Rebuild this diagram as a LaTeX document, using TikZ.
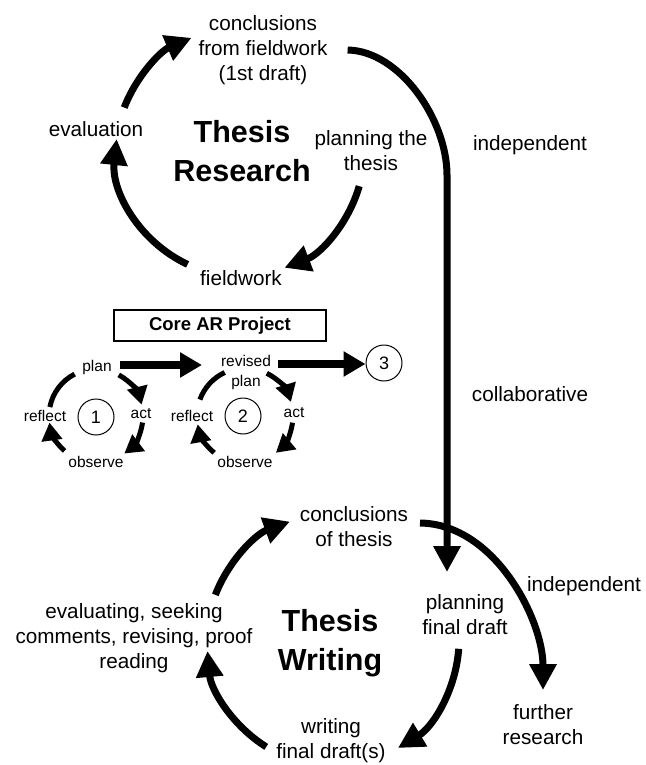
\documentclass[tikz,border=0pt]{standalone}
\usepackage{fontspec}
\setmainfont{Liberation Sans}
\usetikzlibrary{arrows.meta}
\begin{document}
\begin{tikzpicture}[x=1pt,y=-1pt,
  txt/.style={font=\fontsize{20.7}{25}\selectfont, align=center, inner sep=0pt},
  ttl/.style={font=\bfseries\fontsize{30.5}{39}\selectfont, align=center, inner sep=0pt},
  sml/.style={font=\fontsize{15.5}{20}\selectfont, align=center, inner sep=0pt},
  bigarr/.style={line width=7pt, -{Triangle[length=26pt,width=26pt]}},
  smlarr/.style={line width=5pt, -{Triangle[length=18pt,width=20pt]}},
  smlline/.style={line width=5pt},
  medarr/.style={line width=8pt, -{Triangle[length=22pt,width=24pt]}},
  numc/.style={circle, draw, line width=1pt, minimum size=36pt, inner sep=0pt, font=\fontsize{18}{18}\selectfont},
  corebox/.style={draw, line width=1.2pt, minimum width=212pt, minimum height=31pt, inner sep=0pt, font=\bfseries\fontsize{18.5}{20}\selectfont}
]
\fill[white] (0,0) rectangle (645,765);
\useasboundingbox (0,0) rectangle (645,765);

% ---- Thesis Research cycle ----
\node[txt] (concl1) at (263,50) {conclusions\\from fieldwork\\(1st draft)};
\node[txt] (eval1) at (96,129) {evaluation};
\node[txt] (plan1) at (371,151) {planning the\\thesis};
\node[txt] (field1) at (241,278) {fieldwork};
\node[ttl] (title1) at (242,151) {Thesis\\Research};
\node[txt] (indep1) at (530,145) {independent};
\node[txt] (collab) at (530,394) {collaborative};

\coordinate (C1) at (240,152);
\draw[bigarr] ([shift={(-159:124)}]C1) arc[start angle=-159,end angle=-113,radius=124];
\draw[bigarr] ([shift={(-245:124)}]C1) arc[start angle=-245,end angle=-174,radius=124];
\draw[bigarr] ([shift={(16:124)}]C1) arc[start angle=16,end angle=69,radius=124];

% ---- Core AR project ----
\node[corebox] (core) at (220,325.5) {Core AR Project};

\node[sml] (pl1) at (97,367) {plan};
\node[sml] (rf1) at (45,416) {reflect};
\node[sml] (ac1) at (141,414) {act};
\node[sml] (ob1) at (96,462) {observe};
\node[numc] (n1) at (96,417) {1};

\node[sml] (rv2) at (246,372) {revised\\plan};
\node[sml] (rf2) at (192,416) {reflect};
\node[sml] (ac2) at (294,413) {act};
\node[sml] (ob2) at (245,462) {observe};
\node[numc] (n2) at (243,416) {2};

\node[numc] (n3) at (384,363) {3};

\coordinate (S1) at (96,416);
\draw[smlarr] ([shift={(-61:47)}]S1) arc[start angle=-61,end angle=-14,radius=47];
\draw[smlarr] ([shift={(8:47)}]S1) arc[start angle=8,end angle=53,radius=47];
\draw[smlarr] ([shift={(-228:47)}]S1) arc[start angle=-228,end angle=-188,radius=47];
\draw[smlline] ([shift={(-169:47)}]S1) arc[start angle=-169,end angle=-117,radius=47];

\coordinate (S2) at (245,416);
\draw[smlarr] ([shift={(-63:48)}]S2) arc[start angle=-63,end angle=-17,radius=48];
\draw[smlarr] ([shift={(8:48)}]S2) arc[start angle=8,end angle=50,radius=48];
\draw[smlarr] ([shift={(-230:48)}]S2) arc[start angle=-230,end angle=-190,radius=48];
\draw[smlline] ([shift={(-160:48)}]S2) arc[start angle=-160,end angle=-115,radius=48];

\coordinate (a1) at (120,365);
\coordinate (a2) at (202,365);
\draw[medarr] (a1) -- (a2);
\coordinate (a3) at (278,364);
\draw[medarr] (a3) -- (a3 -| n3.west);

% ---- Thesis Writing cycle ----
\node[txt] (concl2) at (354,527) {conclusions\\of thesis};
\node[txt] (plan2) at (465,615) {planning\\final draft};
\node[txt] (eval2) at (134,638) {evaluating, seeking\\comments, revising, proof\\reading};
\node[ttl] (title2) at (330,643) {Thesis\\Writing};
\node[txt] (write2) at (331,741) {writing\\final draft(s)};
\node[txt] (further) at (543,725) {further\\research};
\node[txt] (indep2) at (584,586) {independent};

\coordinate (C2) at (333,640);
\draw[bigarr] ([shift={(-159:126)}]C2) arc[start angle=-159,end angle=-110,radius=126];
\draw[bigarr] ([shift={(-238:126)}]C2) arc[start angle=-238,end angle=-185,radius=126];
\draw[bigarr] ([shift={(4:126)}]C2) arc[start angle=4,end angle=59,radius=126];

% ---- long connectors ----
\coordinate (L1e) at (447,572);
\draw[bigarr] ([xshift=20pt]concl1.east) .. controls (400,51) and (447,120) .. (447,175) -- (L1e);
\coordinate (L2s) at (420,523);
\coordinate (L2e) at (543,690);
\draw[bigarr] (L2s) .. controls (495,524) and (543,620) .. (L2e);
\end{tikzpicture}
\end{document}
